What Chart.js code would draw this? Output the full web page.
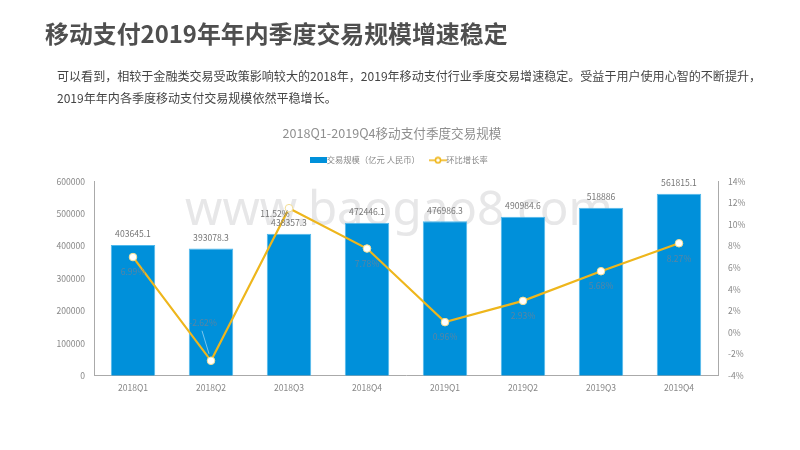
<!DOCTYPE html>
<html><head><meta charset="utf-8">
<script src="https://cdn.jsdelivr.net/npm/chart.js@4"></script>
<style>
html,body{margin:0;padding:0;background:#fff;width:800px;height:450px;overflow:hidden;font-family:"Noto Sans CJK SC","Noto Sans",sans-serif}
h1{position:absolute;left:45px;top:15px;margin:0;font-size:23.9px;line-height:36px;font-weight:700;color:#4f4f4f;white-space:nowrap}
p{position:absolute;left:57px;top:65px;margin:0;width:720px;font-size:12.05px;line-height:21.5px;color:#444;white-space:nowrap}
#w{position:absolute;left:0;top:0;width:800px;height:450px}
</style></head><body>
<div id="w"><canvas id="c" width="800" height="450"></canvas></div>
<h1>移动支付2019年年内季度交易规模增速稳定</h1>
<p>可以看到，相较于金融类交易受政策影响较大的2018年，2019年移动支付行业季度交易增速稳定。受益于用户使用心智的不断提升，<br>2019年年内各季度移动支付交易规模依然平稳增长。</p>
<script>
const categories=['2018Q1','2018Q2','2018Q3','2018Q4','2019Q1','2019Q2','2019Q3','2019Q4'];
const volume=[403645.1,393078.3,438357.3,472446.1,476986.3,490984.6,518886,561815.1];
const growth=[6.99,-2.62,11.52,7.78,0.96,2.93,5.68,8.27];
const volumeLabels=['403645.1','393078.3','438357.3','472446.1','476986.3','490984.6','518886','561815.1'];
const growthLabels=['6.99%','-2.62%','11.52%','7.78%','0.96%','2.93%','5.68%','8.27%'];
const FONT='"Noto Sans CJK SC","Noto Sans",sans-serif';
const chartTitle='2018Q1-2019Q4移动支付季度交易规模';
const watermark='www.baogao8.com';

function rectIcon(){const c=document.createElement('canvas');c.width=17;c.height=6;const x=c.getContext('2d');x.fillStyle='#0090da';x.fillRect(0,0,17,6);return c;}
function lineIcon(){const c=document.createElement('canvas');c.width=18;c.height=8;const x=c.getContext('2d');x.strokeStyle='#f0b71c';x.lineWidth=1.6;x.beginPath();x.moveTo(0,4);x.lineTo(18,4);x.stroke();x.fillStyle='#fff';x.beginPath();x.arc(9,4,2.6,0,7);x.fill();x.stroke();return c;}

const bgText={id:'bgText',beforeDatasetsDraw(ch){const x=ch.ctx;x.save();x.font='47.5px "Noto Sans",sans-serif';x.fillStyle='#e7e7e8';x.textAlign='center';x.textBaseline='middle';x.fillText(watermark,399,211);x.restore();}};
const labels={id:'labels',afterDatasetsDraw(ch){const x=ch.ctx;x.save();x.font='8.6px '+FONT;x.textAlign='center';x.textBaseline='middle';
 ch.getDatasetMeta(1).data.forEach((b,i)=>{x.fillStyle='#777';x.fillText(volumeLabels[i],b.x,b.y-11);});
 ch.getDatasetMeta(0).data.forEach((p,i)=>{let dx=0,dy=15;x.fillStyle='rgba(110,130,150,.8)';
  if(i===1){dx=-8;dy=-38;x.strokeStyle='rgba(255,255,255,.8)';x.lineWidth=.6;x.beginPath();x.moveTo(p.x-9,p.y-30);x.lineTo(p.x-2,p.y-7);x.stroke();}
  if(i===2){dx=-14;dy=6;x.fillStyle='#777';}
  x.fillText(growthLabels[i],p.x+dx,p.y+dy);});
 x.restore();}};
const shiftLegend={id:'shiftLegend',afterLayout(ch){const l=ch.legend;l.left+=9;l.right+=9;l.top-=7;l.bottom-=7;}};

new Chart(document.getElementById('c'),{
 data:{labels:categories,datasets:[
  {type:'line',label:'环比增长率',data:growth,yAxisID:'y1',order:1,borderColor:'#eeb61c',borderWidth:2.2,tension:0,pointRadius:3.8,pointHoverRadius:3.8,pointBackgroundColor:'#fff',pointBorderColor:'#f3dd94',pointBorderWidth:1},
  {type:'bar',label:'交易规模（亿元 人民币）',data:volume,yAxisID:'y',order:2,backgroundColor:'#0090da',borderColor:'#4fb8ec',borderWidth:1,categoryPercentage:1,barPercentage:.57}
 ]},
 plugins:[bgText,labels,shiftLegend],
 options:{responsive:false,animation:false,
  layout:{padding:{left:20,right:36,top:126,bottom:58}},
  plugins:{
   tooltip:{enabled:false},
   title:{display:true,text:chartTitle,color:'#8f8f8f',font:{family:FONT,size:12.6,weight:'normal'},padding:{top:0,bottom:8}},
   legend:{display:true,labels:{usePointStyle:true,color:'#888',font:{family:FONT,size:8.3},boxHeight:6,padding:14,
    generateLabels(){return [
     {text:'交易规模（亿元 人民币）',pointStyle:rectIcon(),fontColor:'#888',datasetIndex:1,lineWidth:0,strokeStyle:'transparent',fillStyle:'transparent'},
     {text:'环比增长率',pointStyle:lineIcon(),fontColor:'#888',datasetIndex:0,lineWidth:0,strokeStyle:'transparent',fillStyle:'transparent'}];}}}
  },
  scales:{
   x:{grid:{display:false},border:{color:'#aaa'},ticks:{color:'#888',font:{family:FONT,size:8.6},padding:-1,maxRotation:0}},
   y:{position:'left',min:0,max:600000,grid:{display:false},border:{color:'#aaa'},afterFit(s){s.width=74;},ticks:{stepSize:100000,color:'#888',font:{family:FONT,size:8.6},padding:1,callback:v=>String(v)}},
   y1:{position:'right',min:-4,max:14,grid:{display:false},border:{color:'#aaa'},afterFit(s){s.width=46;},ticks:{stepSize:2,color:'#888',font:{family:FONT,size:8.6},padding:2,callback:v=>v+'%'}}
  }
 }
});
</script></body></html>
